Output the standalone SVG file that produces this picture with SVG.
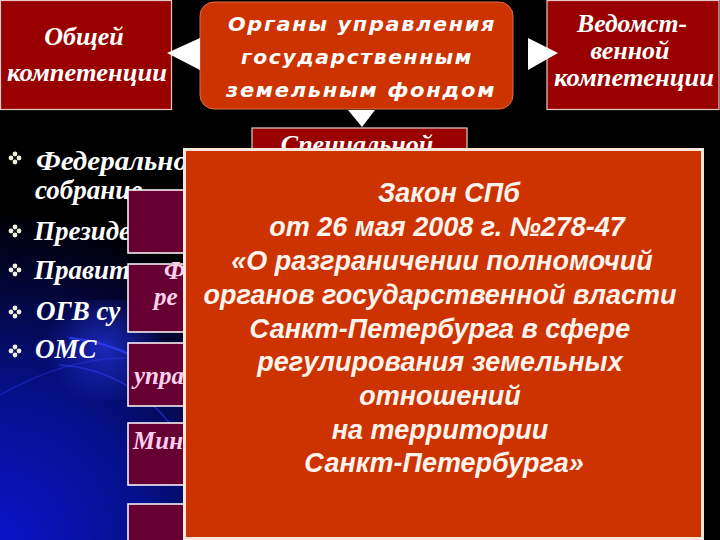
<svg xmlns="http://www.w3.org/2000/svg" width="720" height="540" viewBox="0 0 720 540">
<defs>
<radialGradient id="glow" cx="0" cy="540" r="330" gradientUnits="userSpaceOnUse">
<stop offset="0" stop-color="#0a14c8"/>
<stop offset="0.45" stop-color="#06108a"/>
<stop offset="0.8" stop-color="#020530"/>
<stop offset="1" stop-color="#000000"/>
</radialGradient>
<radialGradient id="spot" cx="105" cy="348" r="60" gradientUnits="userSpaceOnUse">
<stop offset="0" stop-color="#2a3cff" stop-opacity="0.6"/>
<stop offset="1" stop-color="#2a3cff" stop-opacity="0"/>
</radialGradient>
<g id="bul">
<circle cx="0" cy="-4" r="2.4"/><circle cx="0" cy="4" r="2.4"/><circle cx="-4" cy="0" r="2.4"/><circle cx="4" cy="0" r="2.4"/>
</g>
<style>
.red{fill:#990000;stroke:#e8c8c8;stroke-width:1.2}
.org{fill:#cc3300}
.pur{fill:#660033;stroke:#ffffff;stroke-width:1.5}
.scr{font-family:"Liberation Serif","DejaVu Serif",serif;font-style:italic;font-weight:bold;fill:#ffffff;text-anchor:middle;font-size:26px}
.cen{font-family:"DejaVu Sans","Liberation Sans",sans-serif;font-style:oblique;font-weight:bold;fill:#ffffff;text-anchor:middle;font-size:19px;letter-spacing:1.5px}
.law{font-family:"Liberation Sans",Arial,sans-serif;font-style:italic;font-weight:bold;fill:#fff4ee;text-anchor:middle;font-size:27px}
.lst{font-family:"Liberation Serif","Times New Roman",serif;font-style:italic;font-weight:bold;fill:#ffffff;font-size:27px}
.pk{font-family:"Liberation Serif","Times New Roman",serif;font-style:italic;font-weight:bold;fill:#ffd0ec;font-size:25px}
.arr{fill:#ffffff}
</style>
</defs>
<rect x="0" y="0" width="720" height="540" fill="#000"/>
<rect x="0" y="200" width="340" height="340" fill="url(#glow)"/>
<rect x="40" y="300" width="140" height="100" fill="url(#spot)"/>
<g fill="none" stroke="#3040ff" stroke-linecap="round">
<path d="M70 338 Q140 345 190 400" stroke-width="2.5" stroke-opacity="0.7"/>
<path d="M60 365 Q130 370 175 430" stroke-width="1.5" stroke-opacity="0.5"/>
<path d="M0 395 Q80 350 150 360" stroke-width="1.2" stroke-opacity="0.4"/>
</g>

<g id="general">
<rect class="red" x="0.5" y="0.5" width="171" height="109"/>
<text class="scr" x="84" y="45">Общей</text>
<text class="scr" x="87" y="81" textLength="160" lengthAdjust="spacingAndGlyphs">компетенции</text>
</g>

<g id="center">
<rect class="org" x="200" y="2" width="313" height="107" rx="14" stroke="#e07040" stroke-width="1"/>
<text class="cen" x="362" y="31" textLength="268" lengthAdjust="spacingAndGlyphs">Органы управления</text>
<text class="cen" x="357" y="64" textLength="232" lengthAdjust="spacingAndGlyphs">государственным</text>
<text class="cen" x="361" y="97" textLength="270" lengthAdjust="spacingAndGlyphs">земельным фондом</text>
</g>

<g id="dept">
<rect class="red" x="547" y="0.5" width="172" height="109"/>
<text class="scr" x="632" y="32" font-size="24" textLength="110" lengthAdjust="spacingAndGlyphs">Ведомст-</text>
<text class="scr" x="630" y="59" font-size="24">венной</text>
<text class="scr" x="634" y="86" font-size="24" textLength="160" lengthAdjust="spacingAndGlyphs">компетенции</text>
</g>

<g id="special">
<rect class="red" x="252" y="128" width="215" height="40"/>
<text class="scr" x="357" y="153" font-size="28">Специальной</text>
</g>

<g id="ministry">
<text class="lst" x="472" y="166" font-size="24">ü</text>
<text class="lst" x="505" y="166" font-size="24" textLength="196" lengthAdjust="spacingAndGlyphs">Министерство с/х</text>
</g>

<g id="list">
<g fill="#f0f0dc">
<use href="#bul" x="15" y="158"/>
<use href="#bul" x="15" y="231"/>
<use href="#bul" x="15" y="270"/>
<use href="#bul" x="15" y="312"/>
<use href="#bul" x="15" y="351"/>
</g>
<text class="lst" x="36" y="170" textLength="152" lengthAdjust="spacingAndGlyphs">Федерально</text>
<text class="lst" x="35" y="199">собрание</text>
<text class="lst" x="34" y="240">Президе</text>
<text class="lst" x="34" y="279">Правит</text>
<text class="lst" x="36" y="320">ОГВ су</text>
<text class="lst" x="35" y="358">ОМС</text>
</g>

<g id="subs">
<rect class="pur" x="128" y="190" width="80" height="63"/>
<rect class="pur" x="128" y="264" width="80" height="68"/>
<rect class="pur" x="128" y="343" width="80" height="63"/>
<rect class="pur" x="128" y="423" width="80" height="62"/>
<rect class="pur" x="128" y="504" width="80" height="45"/>
<text class="pk" x="164" y="279" font-size="23">Ф</text>
<text class="pk" x="154" y="305" font-size="23">ре</text>
<text class="pk" x="134" y="384">упра</text>
<text class="pk" x="133" y="449">Мин</text>
</g>

<g id="law">
<rect x="184.5" y="149.5" width="518" height="389" fill="#cc3300" stroke="#fbe6dc" stroke-width="3"/>
<text class="law" x="449" y="202">Закон СПб</text>
<text class="law" x="447" y="236">от 26 мая 2008 г. №278-47</text>
<text class="law" x="442" y="270">«О разграничении полномочий</text>
<text class="law" x="440" y="304">органов государственной власти</text>
<text class="law" x="440" y="338">Санкт-Петербурга в сфере</text>
<text class="law" x="440" y="371">регулирования земельных</text>
<text class="law" x="440" y="405">отношений</text>
<text class="law" x="440" y="439">на территории</text>
<text class="law" x="444" y="472">Санкт-Петербурга»</text>
</g>

<g id="connectors">
<polygon class="arr" points="167,53 200,38 200,70"/>
<polygon class="arr" points="558,53 528,38 528,70"/>
<polygon class="arr" points="348,110 375,110 362,127"/>
</g>
</svg>
